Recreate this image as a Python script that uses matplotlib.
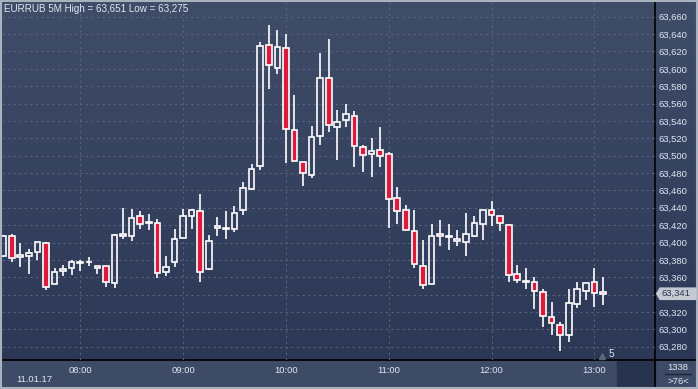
import numpy as np
import matplotlib
matplotlib.use('Agg')
import matplotlib.pyplot as plt
from matplotlib.patches import Rectangle, Polygon
from matplotlib.colors import LinearSegmentedColormap
from matplotlib.transforms import blended_transform_factory

## data: EURRUB 5 minute bars, 11.01.17, first bar at 07:15

opens  = [63385, 63408, 63383, 63385, 63389, 63400, 63352, 63367, 63371, 63376,
          63377, 63373, 63373, 63353, 63410, 63407, 63430, 63423, 63422, 63366,
          63377, 63405, 63430, 63436, 63369, 63417, 63416, 63415, 63438, 63462,
          63488, 63627, 63601, 63624, 63529, 63493, 63478, 63523, 63589, 63533,
          63541, 63546, 63510, 63502, 63506, 63502, 63451, 63437, 63413, 63373,
          63352, 63410, 63406, 63402, 63401, 63408, 63421, 63437, 63430, 63420,
          63364, 63356, 63355, 63343, 63314, 63305, 63293, 63329, 63344, 63354,
          63343]
highs  = [63409, 63410, 63400, 63393, 63401, 63401, 63371, 63374, 63380, 63380,
          63383, 63373, 63373, 63410, 63440, 63439, 63436, 63433, 63427, 63384,
          63416, 63439, 63439, 63456, 63409, 63429, 63436, 63442, 63470, 63490,
          63631, 63651, 63645, 63640, 63570, 63493, 63534, 63618, 63634, 63553,
          63559, 63551, 63512, 63520, 63533, 63504, 63464, 63443, 63438, 63403,
          63421, 63426, 63421, 63414, 63434, 63431, 63437, 63448, 63431, 63421,
          63374, 63371, 63360, 63347, 63332, 63309, 63347, 63355, 63353, 63371,
          63360]
lows   = [63383, 63377, 63372, 63364, 63380, 63345, 63352, 63361, 63363, 63367,
          63373, 63364, 63349, 63348, 63404, 63402, 63415, 63414, 63359, 63362,
          63372, 63405, 63416, 63354, 63368, 63407, 63404, 63412, 63432, 63460,
          63484, 63577, 63594, 63491, 63494, 63465, 63474, 63512, 63527, 63495,
          63533, 63487, 63481, 63475, 63487, 63417, 63421, 63414, 63371, 63347,
          63352, 63396, 63391, 63396, 63385, 63406, 63403, 63419, 63413, 63355,
          63353, 63347, 63324, 63303, 63293, 63275, 63285, 63325, 63334, 63326,
          63328]
closes = [63407, 63382, 63386, 63388, 63401, 63349, 63366, 63369, 63378, 63378,
          63377.5, 63371, 63355, 63409, 63407, 63428, 63421, 63423.5, 63365, 63372,
          63404, 63430, 63437, 63366, 63402, 63419, 63417, 63434, 63463, 63485,
          63626, 63604, 63625, 63531, 63494, 63480, 63521, 63590, 63535, 63539,
          63548, 63511, 63501, 63505, 63500, 63450, 63436, 63414, 63375, 63351,
          63408, 63407, 63407, 63404, 63410, 63423, 63437, 63432, 63423, 63363,
          63357, 63354, 63344, 63315, 63307, 63293, 63330, 63346, 63353, 63342,
          63341]

hour_idx = [9, 21, 33, 45, 57, 69]
hour_labels = ['08:00', '09:00', '10:00', '11:00', '12:00', '13:00']
price_ticks = np.arange(63280, 63661, 20)

## style

W, H = 698, 389
red = '#dc1a3c'
txt = '#dfe7f3'
plt.rcParams['font.family'] = ['Liberation Sans', 'DejaVu Sans']
fs = 6.8

fig = plt.figure(figsize=(W/100, H/100), dpi=100)

# background in pixel coords (y up)
bg = fig.add_axes([0, 0, 1, 1])
bg.set_xlim(0, W)
bg.set_ylim(0, H)
bg.set_axis_off()
cm = LinearSegmentedColormap.from_list('bg', ['#404d69', '#2a3654'])
grad = np.linspace(0, 1, 256).reshape(-1, 1)
bg.imshow(grad, cmap=cm, aspect='auto', extent=[0, W, 0, H], zorder=0)
bg.add_patch(Rectangle((0, 0), W, 28.5, color='#3e4b66', zorder=1))
bg.add_patch(Rectangle((617, 0), 38, 28.5, color='#28334f', zorder=1))
bg.plot([655, 655], [0, H], color='black', lw=1.2, zorder=2)
bg.plot([0, W], [28.7, 28.7], color='black', lw=1.2, zorder=2)
bg.plot([665, 691], [15.5, 15.5], color='#1c2438', lw=1, zorder=2)
bg.add_patch(Rectangle((0.6, 0.6), W-1.2, H-1.2, fill=False, ec='#a9b1bf', lw=1.5, zorder=3))
bg.text(678, 21, '1338', color=txt, fontsize=fs, ha='center', va='center')
bg.text(678, 7.5, '>76<', color=txt, fontsize=fs, ha='center', va='center')

# main chart
ax = fig.add_axes([2/W, 29/H, 653/W, 359/H])
ax.patch.set_alpha(0)
for s in ax.spines.values():
    s.set_visible(False)
ax.set_xlim(-0.13, 76.07)
ax.set_ylim(63264.7, 63678.1)

last = closes[-1]

ax.set_xticks(hour_idx)
ax.set_xticklabels(hour_labels)
ax.set_yticks(price_ticks)
# the level under the last price box is hidden
ax.set_yticklabels(['' if abs(v - last) < 10 else f'{v:,}' for v in price_ticks])
ax.yaxis.tick_right()
ax.tick_params(length=0, colors=txt, labelsize=fs)
ax.tick_params(axis='y', pad=2.2)
ax.tick_params(axis='x', pad=4)
ax.grid(True, color='#55637f', ls=(0, (2, 3)), lw=0.8, zorder=0)

bw = 0.66
for i in range(len(opens)):
    o, h, l, c = opens[i], highs[i], lows[i], closes[i]
    top, bot = max(o, c), min(o, c)
    ax.vlines(i, top, h, color='white', lw=1.2, zorder=3)
    ax.vlines(i, l, bot, color='white', lw=1.2, zorder=3)
    fc = red if c < o else 'none'
    ax.add_patch(Rectangle((i - bw/2, bot), bw, max(top - bot, 0.3),
                           fc=fc, ec='white', lw=1.2, zorder=4))

# last price marker on the right scale
tr = blended_transform_factory(ax.transAxes, ax.transData)
x0 = 1 + 1.7/653
x1 = 1 + 5/653
x2 = 1 + 41/653
hh = 6.5
ax.add_patch(Polygon([(x0, last), (x1, last + hh), (x2, last + hh), (x2, last - hh), (x1, last - hh)],
                     closed=True, transform=tr, fc='#c4c9d2', ec='#c4c9d2', clip_on=False, zorder=5))
ax.text(1 + 6/653, last, f'{round(last):,}', transform=tr, color='#2b3550', fontsize=fs,
        va='center', ha='left', zorder=6)

# labels
fig.text(4/W, 1 - 8.5/H, f'EURRUB 5M High = {max(highs):,} Low = {min(lows):,}',
         color=txt, fontsize=fs+0.3, va='center', ha='left')
fig.text(16/W, 1 - 379/H, '11.01.17', color=txt, fontsize=fs, va='center', ha='left')
fig.text(611/W, 1 - 354/H, '5', color=txt, fontsize=fs+0.5, va='center', ha='center')
bg.plot([602], [33], marker='^', color='#5d6679', ms=4, zorder=2)

fig.savefig('out.png', dpi=100)
